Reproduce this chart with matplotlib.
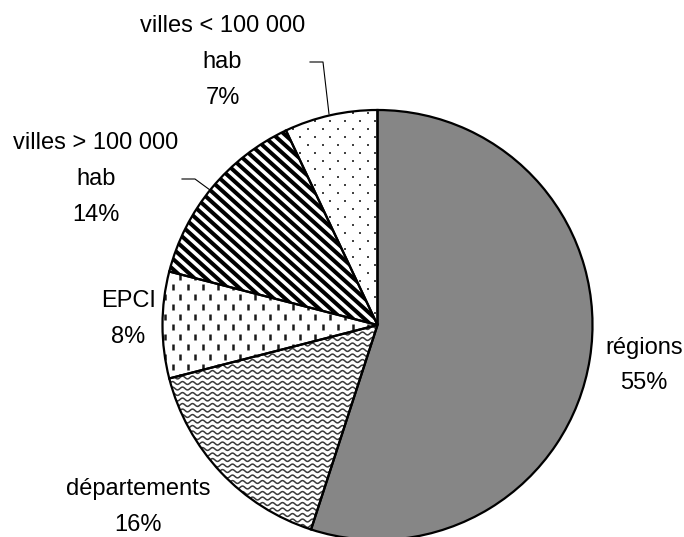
import numpy as np
import matplotlib
matplotlib.use('Agg')
import matplotlib.pyplot as plt
from matplotlib.collections import LineCollection

# ---- data ----
categories = ['régions', 'départements', 'EPCI', 'villes > 100 000\nhab', 'villes < 100 000\nhab']
values = [55, 16, 8, 14, 7]

W, H = 684, 537
fig = plt.figure(figsize=(W / 100, H / 100), dpi=100)
ax = fig.add_axes([0, 0, 1, 1])

cx, cy, R = 377.5, H - 325, 215

wedges, _ = ax.pie(values, startangle=90, counterclock=False, center=(cx, cy), radius=R,
                   wedgeprops=dict(facecolor='white', edgecolor='none'))
outline, _ = ax.pie(values, startangle=90, counterclock=False, center=(cx, cy), radius=R,
                    wedgeprops=dict(fill=False, edgecolor='black', linewidth=1.6))
for w in outline:
    w.set_zorder(5)

# régions: fine grey texture
wedges[0].set_facecolor('#868686')

# départements: wavy lines
xs = np.arange(0, W, 0.5)
segs = [np.column_stack([xs, y0 + 1.4 * np.sin(2 * np.pi * xs / 10.0)])
        for y0 in np.arange(0, H, 5.5)]
lc = LineCollection(segs, colors='#3a3a3a', linewidths=1.1, zorder=2)
ax.add_collection(lc)
lc.set_clip_path(wedges[1])

# EPCI: short vertical dashes
dsegs = []
for j, y0 in enumerate(np.arange(0, H, 10)):
    off = 7.5 if j % 2 else 0
    for x0 in np.arange(off, W, 15):
        dsegs.append([(x0, y0 - 3), (x0, y0 + 3)])
dc = LineCollection(dsegs, colors='#1a1a1a', linewidths=1.8, zorder=2)
ax.add_collection(dc)
dc.set_clip_path(wedges[2])

# villes > 100 000: thick diagonal stripes
ang = np.deg2rad(-42)
d = np.array([np.cos(ang), np.sin(ang)])
n = np.array([-d[1], d[0]])
ssegs = []
for c in np.arange(-1000, 1000, 7.6):
    p = c * n
    ssegs.append([tuple(p - 2000 * d), tuple(p + 2000 * d)])
sc = LineCollection(ssegs, colors='black', linewidths=2.9, zorder=2)
ax.add_collection(sc)
sc.set_clip_path(wedges[3])

# villes < 100 000: sparse dots
px, py = [], []
for j, y0 in enumerate(np.arange(0, H, 8)):
    off = 7.5 if j % 2 else 0
    for x0 in np.arange(off, W, 15):
        px.append(x0)
        py.append(y0)
dots = ax.scatter(px, py, s=2.2, marker='s', color='#444444', linewidths=0, zorder=2)
dots.set_clip_path(wedges[4])

# leader lines
ax.plot([310, 323, 329], [H - 62, H - 62, H - 114], color='black', lw=0.8, zorder=6)
ax.plot([182, 195, 210], [H - 179, H - 179, H - 190], color='black', lw=0.8, zorder=6)

# labels
pos = [(644, 365.5), (138.5, 507), (128.5, 319), (96, 179), (222.5, 62)]
for lab, v, (x, y) in zip(categories, values, pos):
    ax.text(x, H - y, f'{lab}\n{v}%', ha='center', va='center', fontsize=17,
            family='Liberation Sans', linespacing=1.8, zorder=7)

ax.set_xlim(0, W)
ax.set_ylim(0, H)
ax.set_aspect('equal')
ax.axis('off')
fig.savefig('out.png', dpi=100)
